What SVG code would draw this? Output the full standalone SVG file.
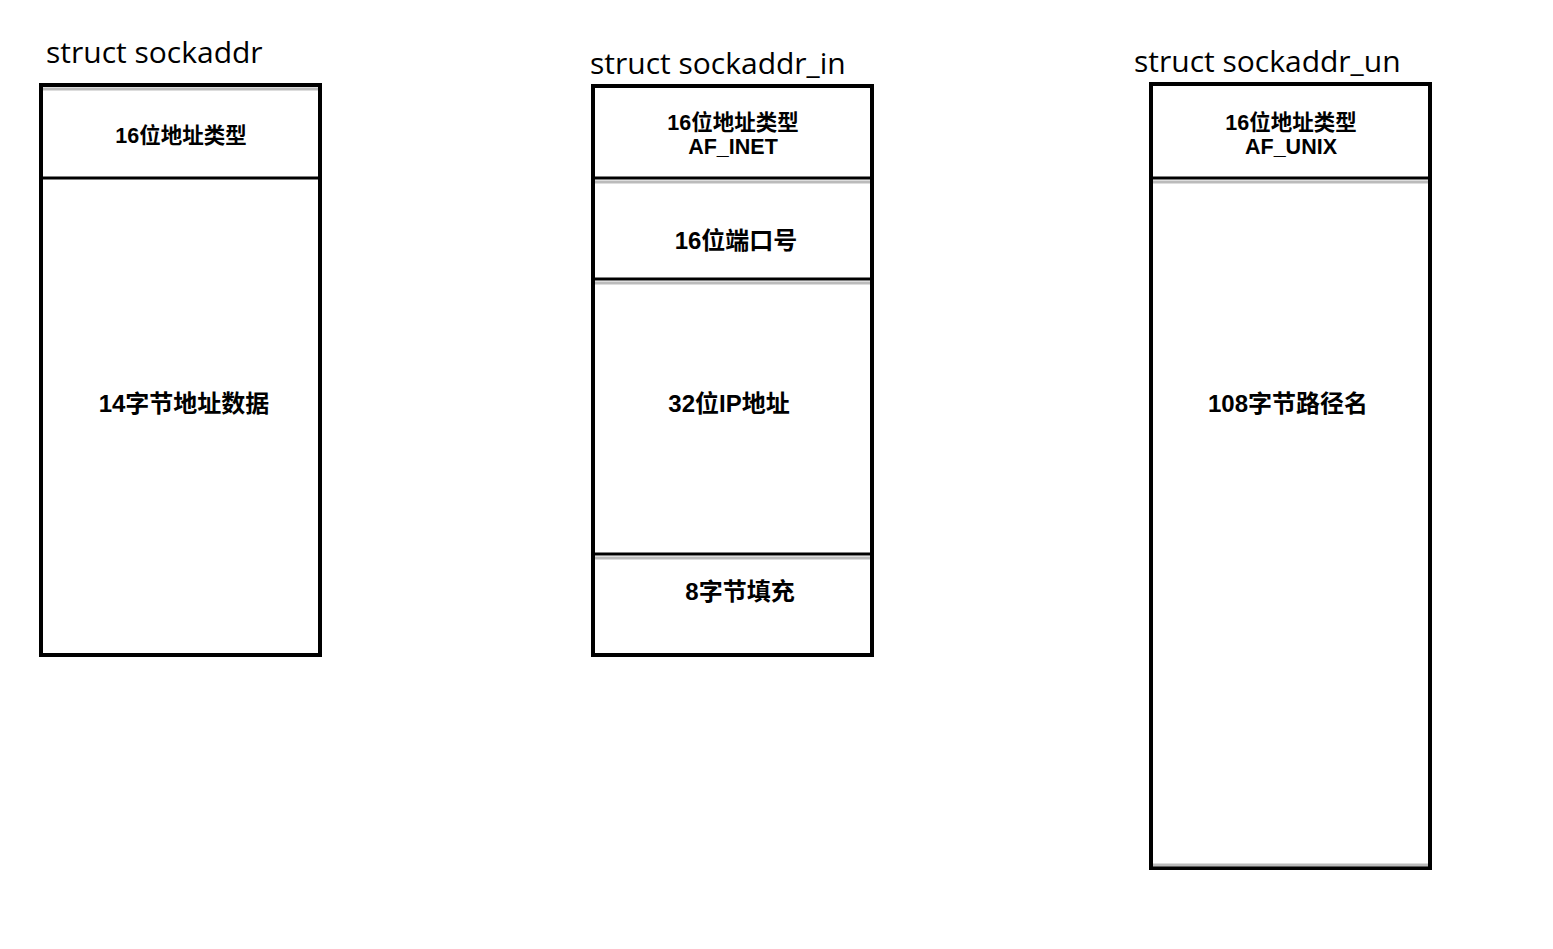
<svg xmlns="http://www.w3.org/2000/svg" width="1553" height="949" viewBox="0 0 1553 949">
<style>
.title{font-family:"Open Sans","Noto Sans",sans-serif;font-size:30px;fill:#000}
.box{fill:#fff;stroke:#000;stroke-width:4}
.div{stroke:#000;stroke-width:3}
.shade{stroke:#bbb;stroke-width:3}
.lbl{font-family:"Liberation Sans","Noto Sans CJK SC",sans-serif;font-weight:bold;font-size:24px;fill:#000;text-anchor:middle}
.sm{font-size:21.5px}
</style>
<rect width="1553" height="949" fill="#fff"/>
<g id="sockaddr">
<text class="title" x="46" y="63">struct sockaddr</text>
<rect class="box" x="41" y="85" width="279" height="570"/>
<line class="shade" x1="43" y1="89" x2="318" y2="89"/>
<line class="div" x1="41" y1="178" x2="320" y2="178"/>
<text class="lbl sm" x="181" y="143">16位地址类型</text>
<text class="lbl" x="184" y="412">14字节地址数据</text>
</g>
<g id="sockaddr_in">
<text class="title" x="590" y="74">struct sockaddr_in</text>
<rect class="box" x="593" y="86" width="279" height="569"/>
<line class="div" x1="593" y1="178" x2="872" y2="178"/>
<line class="shade" x1="595" y1="182" x2="870" y2="182"/>
<line class="div" x1="593" y1="279" x2="872" y2="279"/>
<line class="shade" x1="595" y1="283" x2="870" y2="283"/>
<line class="div" x1="593" y1="554" x2="872" y2="554"/>
<line class="shade" x1="595" y1="558" x2="870" y2="558"/>
<text class="lbl sm" x="733" y="130">16位地址类型</text>
<text class="lbl sm" x="733" y="154">AF_INET</text>
<text class="lbl" x="736" y="249">16位端口号</text>
<text class="lbl" x="729" y="412">32位IP地址</text>
<text class="lbl" x="740" y="600">8字节填充</text>
</g>
<g id="sockaddr_un">
<text class="title" x="1134" y="72">struct sockaddr_un</text>
<rect class="box" x="1151" y="84" width="279" height="784"/>
<line class="div" x1="1151" y1="178" x2="1430" y2="178"/>
<line class="shade" x1="1153" y1="182" x2="1428" y2="182"/>
<line class="shade" x1="1153" y1="865" x2="1428" y2="865"/>
<text class="lbl sm" x="1291" y="130">16位地址类型</text>
<text class="lbl sm" x="1291" y="154">AF_UNIX</text>
<text class="lbl" x="1288" y="412">108字节路径名</text>
</g>
<g id="connectors"></g>
</svg>
